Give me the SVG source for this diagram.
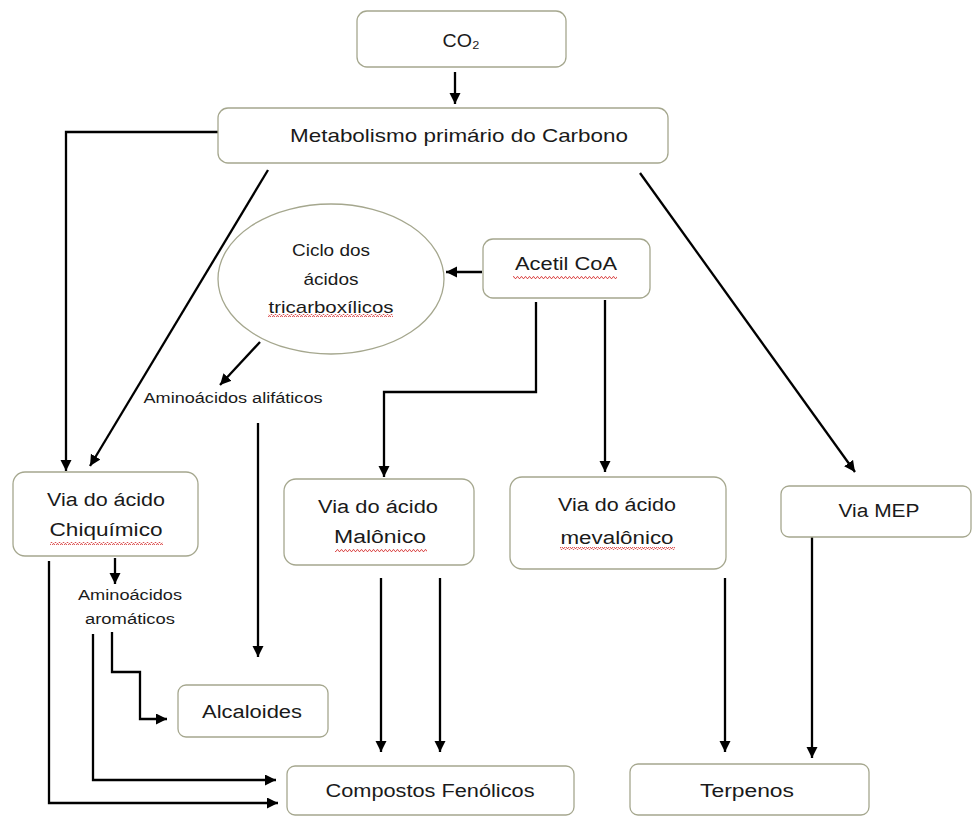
<svg xmlns="http://www.w3.org/2000/svg" width="974" height="816" viewBox="0 0 974 816">
<style>
.box{fill:#fff;stroke:#a5a78e;stroke-width:1.3}
.t{font-family:"Liberation Sans",Arial,sans-serif;fill:#1a1a1a;text-anchor:middle}
.c{fill:none;stroke:#000;stroke-width:2.3;marker-end:url(#ah)}
.sq{fill:url(#squig)}
</style>
<defs>
<marker id="ah" markerUnits="userSpaceOnUse" markerWidth="13" markerHeight="12" refX="11" refY="5.5" orient="auto">
<path d="M0,0 L11,5.5 L0,11 z" fill="#000"/>
</marker>
<pattern id="squig" patternUnits="userSpaceOnUse" width="4" height="3">
<path d="M0,2.5 L1,0.7 L2,0.7 L3,2.5 L4,2.5" fill="none" stroke="#d9403f" stroke-width="0.9"/>
</pattern>
</defs>
<rect width="974" height="816" fill="#fff"/>

<g id="connectors">
<path class="c" d="M455 72 V104"/>
<path class="c" d="M218 132 H66 V471"/>
<path class="c" d="M268 170 L90 466"/>
<path class="c" d="M640 173 L855 472"/>
<path class="c" d="M482 272 H446"/>
<path class="c" d="M260 342 L220 385"/>
<path class="c" d="M536 302 V392 H384 V477"/>
<path class="c" d="M605 300 V472"/>
<path class="c" d="M258 423 V657"/>
<path class="c" d="M115 558 V584"/>
<path class="c" d="M112 632 V672 H140 V719 H167"/>
<path class="c" d="M93 634 V780 H276"/>
<path class="c" d="M49 561 V803 H278"/>
<path class="c" d="M381 578 V752"/>
<path class="c" d="M440 578 V752"/>
<path class="c" d="M725 578 V752"/>
<path class="c" d="M812 537 V758"/>
</g>

<g id="co2">
<rect class="box" x="357" y="11" width="209" height="56" rx="10"/>
<text class="t" x="461" y="47" font-size="19" textLength="37" lengthAdjust="spacingAndGlyphs">CO₂</text>
</g>

<g id="metabolismo">
<rect class="box" x="218" y="108" width="450" height="55" rx="10"/>
<text class="t" x="459" y="142" font-size="19" textLength="338" lengthAdjust="spacingAndGlyphs">Metabolismo primário do Carbono</text>
</g>

<g id="ciclo">
<ellipse class="box" cx="331" cy="279" rx="113" ry="75"/>
<text class="t" x="331" y="256" font-size="17" textLength="78" lengthAdjust="spacingAndGlyphs">Ciclo dos</text>
<text class="t" x="331" y="285" font-size="17" textLength="55" lengthAdjust="spacingAndGlyphs">ácidos</text>
<text class="t" x="331" y="313" font-size="17" textLength="125" lengthAdjust="spacingAndGlyphs">tricarboxílicos</text>
<rect class="sq" x="268" y="314" width="125" height="3"/>
</g>

<g id="acetil">
<rect class="box" x="483" y="239" width="167" height="59" rx="10"/>
<text class="t" x="566" y="270" font-size="18" textLength="102" lengthAdjust="spacingAndGlyphs">Acetil CoA</text>
<rect class="sq" x="513" y="276" width="104" height="3"/>
</g>

<g id="alifaticos">
<text class="t" x="233" y="403" font-size="14" textLength="179" lengthAdjust="spacingAndGlyphs">Aminoácidos alifáticos</text>
</g>

<g id="chiquimico">
<rect class="box" x="13" y="472" width="185" height="84" rx="12"/>
<text class="t" x="106" y="506" font-size="18" textLength="118" lengthAdjust="spacingAndGlyphs">Via do ácido</text>
<text class="t" x="106" y="536" font-size="18" textLength="113" lengthAdjust="spacingAndGlyphs">Chiquímico</text>
<rect class="sq" x="50" y="542" width="113" height="3"/>
</g>

<g id="aromaticos">
<text class="t" x="130" y="600" font-size="14" textLength="104" lengthAdjust="spacingAndGlyphs">Aminoácidos</text>
<text class="t" x="130" y="624" font-size="14" textLength="90" lengthAdjust="spacingAndGlyphs">aromáticos</text>
</g>

<g id="malonico">
<rect class="box" x="284" y="479" width="190" height="86" rx="12"/>
<text class="t" x="378" y="513" font-size="18" textLength="120" lengthAdjust="spacingAndGlyphs">Via do ácido</text>
<text class="t" x="380" y="543" font-size="18" textLength="92" lengthAdjust="spacingAndGlyphs">Malônico</text>
<rect class="sq" x="335" y="549" width="92" height="3"/>
</g>

<g id="mevalonico">
<rect class="box" x="510" y="477" width="216" height="92" rx="12"/>
<text class="t" x="617" y="511" font-size="18" textLength="118" lengthAdjust="spacingAndGlyphs">Via do ácido</text>
<text class="t" x="617" y="544" font-size="18" textLength="113" lengthAdjust="spacingAndGlyphs">mevalônico</text>
<rect class="sq" x="560" y="547" width="115" height="3"/>
</g>

<g id="mep">
<rect class="box" x="781" y="486" width="190" height="51" rx="8"/>
<text class="t" x="879" y="517" font-size="18" textLength="81" lengthAdjust="spacingAndGlyphs">Via MEP</text>
</g>

<g id="alcaloides">
<rect class="box" x="178" y="685" width="150" height="52" rx="8"/>
<text class="t" x="252" y="718" font-size="18" textLength="100" lengthAdjust="spacingAndGlyphs">Alcaloides</text>
</g>

<g id="compostos">
<rect class="box" x="287" y="766" width="287" height="49" rx="8"/>
<text class="t" x="430" y="797" font-size="18" textLength="209" lengthAdjust="spacingAndGlyphs">Compostos Fenólicos</text>
</g>

<g id="terpenos">
<rect class="box" x="630" y="764" width="239" height="51" rx="8"/>
<text class="t" x="747" y="797" font-size="18" textLength="94" lengthAdjust="spacingAndGlyphs">Terpenos</text>
</g>
</svg>
